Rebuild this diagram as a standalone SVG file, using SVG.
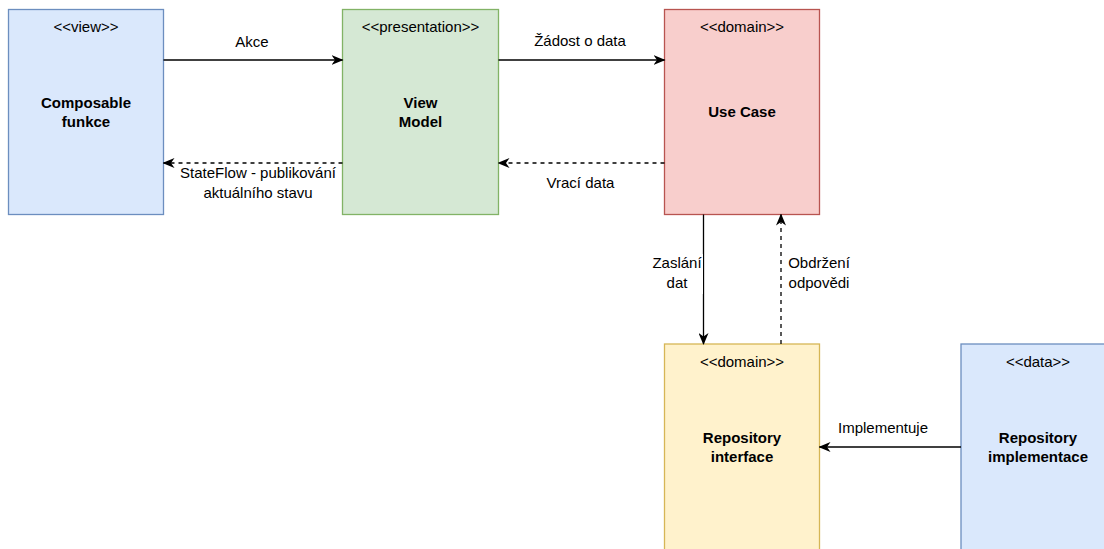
<svg xmlns="http://www.w3.org/2000/svg" width="1104" height="549" viewBox="0 0 1104 549">
  <style>
    .box { stroke-width: 1.3; }
    .blue { fill: #dae8fc; stroke: #6c8ebf; }
    .green { fill: #d5e8d4; stroke: #82b366; }
    .red { fill: #f8cecc; stroke: #b85450; }
    .yellow { fill: #fff2cc; stroke: #d6b656; }
    text { font-family: "Liberation Sans", Arial, sans-serif; font-size: 15px; fill: #000; text-anchor: middle; }
    .title { font-weight: bold; }
    .edge { fill: none; stroke: #000; stroke-width: 1.3; }
    .dashed { stroke-dasharray: 4 4; }
  </style>
  <defs>
    <marker id="arrow" viewBox="0 0 12 10" refX="11" refY="5" markerWidth="12" markerHeight="10" markerUnits="userSpaceOnUse" orient="auto">
      <path d="M0,0 L12,5 L0,10 L3.5,5 Z" fill="#000"/>
    </marker>
  </defs>

  <g id="node-view">
    <rect class="box blue" x="8.5" y="9.5" width="155" height="205"/>
    <text x="86" y="32">&lt;&lt;view&gt;&gt;</text>
    <text class="title" x="86" y="108">Composable</text>
    <text class="title" x="86" y="127">funkce</text>
  </g>

  <g id="node-viewmodel">
    <rect class="box green" x="342.5" y="9.5" width="156" height="205"/>
    <text x="420.5" y="32">&lt;&lt;presentation&gt;&gt;</text>
    <text class="title" x="420.5" y="108">View</text>
    <text class="title" x="420.5" y="127">Model</text>
  </g>

  <g id="node-usecase">
    <rect class="box red" x="664.5" y="9.5" width="155" height="205"/>
    <text x="742" y="32">&lt;&lt;domain&gt;&gt;</text>
    <text class="title" x="742" y="117">Use Case</text>
  </g>

  <g id="node-repo-interface">
    <rect class="box yellow" x="664.5" y="344" width="155" height="210"/>
    <text x="742" y="367">&lt;&lt;domain&gt;&gt;</text>
    <text class="title" x="742" y="443">Repository</text>
    <text class="title" x="742" y="462">interface</text>
  </g>

  <g id="node-repo-impl">
    <rect class="box blue" x="961" y="344" width="155" height="210"/>
    <text x="1038" y="367">&lt;&lt;data&gt;&gt;</text>
    <text class="title" x="1038" y="443">Repository</text>
    <text class="title" x="1038" y="462">implementace</text>
  </g>

  <g id="connectors">
    <path class="edge" d="M163.5,60 L342.5,60" marker-end="url(#arrow)"/>
    <text x="252" y="47">Akce</text>

    <path class="edge dashed" d="M342.5,163 L163.5,163" marker-end="url(#arrow)"/>
    <rect x="178" y="164" width="160" height="38" fill="#fff"/>
    <text x="258" y="178">StateFlow - publikování</text>
    <text x="258" y="198">aktuálního stavu</text>

    <path class="edge" d="M498.5,60 L664.5,60" marker-end="url(#arrow)"/>
    <text x="580" y="46">Žádost o data</text>

    <path class="edge dashed" d="M664.5,163 L498.5,163" marker-end="url(#arrow)"/>
    <text x="580.5" y="188">Vrací data</text>

    <path class="edge" d="M703.5,214.5 L703.5,344" marker-end="url(#arrow)"/>
    <rect x="650" y="254" width="53" height="40" fill="#fff"/>
    <text x="677" y="268">Zaslání</text>
    <text x="677" y="288">dat</text>

    <path class="edge dashed" d="M781,344 L781,214.5" marker-end="url(#arrow)"/>
    <text x="819" y="268">Obdržení</text>
    <text x="819" y="288">odpovědi</text>

    <path class="edge" d="M961,447 L819.5,447" marker-end="url(#arrow)"/>
    <text x="883" y="433">Implementuje</text>
  </g>
</svg>
